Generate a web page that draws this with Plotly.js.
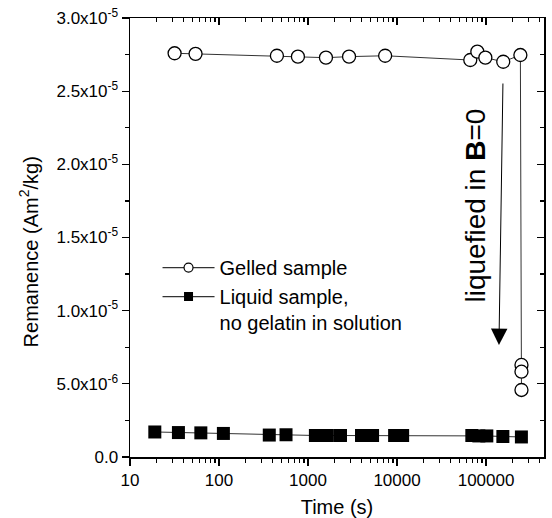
<!DOCTYPE html>
<html>
<head>
<meta charset="utf-8">
<script src="https://cdn.plot.ly/plotly-3.0.1.min.js"></script>
<style>html,body{margin:0;padding:0;background:#fff}#chart{width:552px;height:518px}</style>
</head>
<body>
<div id="chart"></div>
<script>
// Gelled sample (open circles)
const gelTime = [31.7, 54.5, 447, 770, 1590, 2890, 7350, 66500, 79800, 98200, 156000, 243000, 250000, 250000, 250000];
const gelRem  = [2.759e-5, 2.755e-5, 2.742e-5, 2.736e-5, 2.729e-5, 2.736e-5, 2.742e-5, 2.713e-5, 2.770e-5, 2.729e-5, 2.701e-5, 2.747e-5, 6.29e-6, 5.83e-6, 4.58e-6];
// Liquid sample (filled squares)
const liqTime = [19.0, 35.0, 62.5, 112, 367, 566, 1210, 1650, 2315, 3990, 5310, 9390, 11560, 69200, 83000, 102000, 154500, 249500];
const liqRem  = [1.71e-6, 1.67e-6, 1.65e-6, 1.61e-6, 1.50e-6, 1.52e-6, 1.47e-6, 1.47e-6, 1.47e-6, 1.47e-6, 1.47e-6, 1.47e-6, 1.47e-6, 1.47e-6, 1.44e-6, 1.44e-6, 1.40e-6, 1.37e-6];
const seriesNames = ['Gelled sample', 'Liquid sample,<br>no gelatin in solution'];
// Axis ticks
const xTickVals = [10, 100, 1000, 10000, 100000];
const xTickText = ['10', '100', '1000', '10000', '100000'];
const xMinorVals = [20,30,40,50,60,70,80,90,200,300,400,500,600,700,800,900,2000,3000,4000,5000,6000,7000,8000,9000,20000,30000,40000,50000,60000,70000,80000,90000,200000,300000,400000];
const yTickVals = [0, 5e-6, 1e-5, 1.5e-5, 2e-5, 2.5e-5, 3e-5];
const yTickText = ['0.0', '5.0x10<sup>-6</sup>', '1.0x10<sup>-5</sup>', '1.5x10<sup>-5</sup>', '2.0x10<sup>-5</sup>', '2.5x10<sup>-5</sup>', '3.0x10<sup>-5</sup>'];
const yMinorVals = [2.5e-6, 7.5e-6, 1.25e-5, 1.75e-5, 2.25e-5, 2.75e-5];

const FONT = 'Liberation Sans, Arial, Helvetica, sans-serif';
const XR = [1, 5.651];
const YR = [0, 3e-5];

const traces = [
  {x: liqTime, y: liqRem, type: 'scatter', mode: 'lines+markers', showlegend: false,
   line: {color: '#333', width: 1},
   marker: {symbol: 'square', size: 13, color: '#000', line: {color: '#000', width: 0}}},
  {x: gelTime, y: gelRem, type: 'scatter', mode: 'lines+markers', showlegend: false,
   line: {color: '#333', width: 1},
   marker: {symbol: 'circle', size: 13, color: '#fff', line: {color: '#000', width: 1.3}}},
  // legend entries
  {x: [null], y: [null], type: 'scatter', mode: 'lines+markers', name: seriesNames[0],
   line: {color: '#333', width: 1.2},
   marker: {symbol: 'circle', size: 9, color: '#fff', line: {color: '#000', width: 1.2}}},
  {x: [null], y: [null], type: 'scatter', mode: 'lines+markers', name: seriesNames[1],
   line: {color: '#333', width: 1.2},
   marker: {symbol: 'square', size: 9, color: '#000', line: {width: 0}}},
  // carrier for mirror axes
  {x: [null], y: [null], xaxis: 'x2', yaxis: 'y2', type: 'scatter', mode: 'markers', showlegend: false, hoverinfo: 'skip'}
];

const axisCommon = {showgrid: false, zeroline: false, showline: true, linecolor: '#000', linewidth: 1.5,
  tickcolor: '#000', tickwidth: 1.3, ticklen: 7};

const layout = {
  width: 552, height: 518,
  margin: {l: 130, r: 8, t: 18, b: 61},
  paper_bgcolor: '#fff', plot_bgcolor: '#fff',
  font: {family: FONT, color: '#000', size: 17},
  showlegend: true,
  legend: {x: 0.0665, y: 0.476, xanchor: 'left', yanchor: 'top', bgcolor: 'rgba(0,0,0,0)',
    font: {family: FONT, size: 20, color: '#000'}, itemwidth: 52, valign: 'top', tracegroupgap: 0},
  xaxis: Object.assign({}, axisCommon, {
    type: 'log', range: XR, ticks: 'outside',
    tickmode: 'array', tickvals: xTickVals, ticktext: xTickText,
    tickfont: {family: FONT, size: 17, color: '#000'},
    minor: {tickmode: 'array', tickvals: xMinorVals, ticks: 'outside', ticklen: 4, tickcolor: '#000', tickwidth: 1.2},
    title: {text: 'Time (s)', font: {family: FONT, size: 20, color: '#000'}, standoff: 11}
  }),
  yaxis: Object.assign({}, axisCommon, {
    range: YR, ticks: 'outside',
    tickmode: 'array', tickvals: yTickVals, ticktext: yTickText,
    tickfont: {family: FONT, size: 17, color: '#000'},
    minor: {tickmode: 'array', tickvals: yMinorVals, ticks: 'outside', ticklen: 4, tickcolor: '#000', tickwidth: 1.2}
  }),
  xaxis2: Object.assign({}, axisCommon, {
    type: 'log', range: XR, overlaying: 'x', side: 'top', anchor: 'y2', ticks: 'inside',
    tickmode: 'array', tickvals: xTickVals, showticklabels: false,
    minor: {tickmode: 'array', tickvals: xMinorVals, ticks: 'inside', ticklen: 4, tickcolor: '#000', tickwidth: 1.2}
  }),
  yaxis2: Object.assign({}, axisCommon, {
    range: YR, overlaying: 'y', side: 'right', anchor: 'x2', ticks: 'inside',
    tickmode: 'array', tickvals: yTickVals, showticklabels: false,
    minor: {tickmode: 'array', tickvals: yMinorVals, ticks: 'inside', ticklen: 4, tickcolor: '#000', tickwidth: 1.2}
  }),
  annotations: [
    {xref: 'paper', yref: 'paper', x: -0.243, y: 0.467, xanchor: 'center', yanchor: 'middle',
     text: 'Remanence (Am<sup>2</sup>/kg)', textangle: -90, showarrow: false,
     font: {family: FONT, size: 20, color: '#000'}},
    {xref: 'x', yref: 'y', x: 4.881, y: 1.722e-5, xanchor: 'center', yanchor: 'middle',
     text: 'liquefied in <b>B</b>=0', textangle: -90, showarrow: false,
     font: {family: FONT, size: 28, color: '#000'}},
    {xref: 'x', yref: 'y', axref: 'x', ayref: 'y', x: 5.145, y: 7.654e-6, ax: 5.19, ay: 2.5626e-5,
     text: '', showarrow: true, arrowhead: 2, arrowsize: 3.3, arrowwidth: 1, arrowcolor: '#000'}
  ]
};

Plotly.newPlot('chart', traces, layout, {displayModeBar: false, staticPlot: true});
</script>
</body>
</html>
